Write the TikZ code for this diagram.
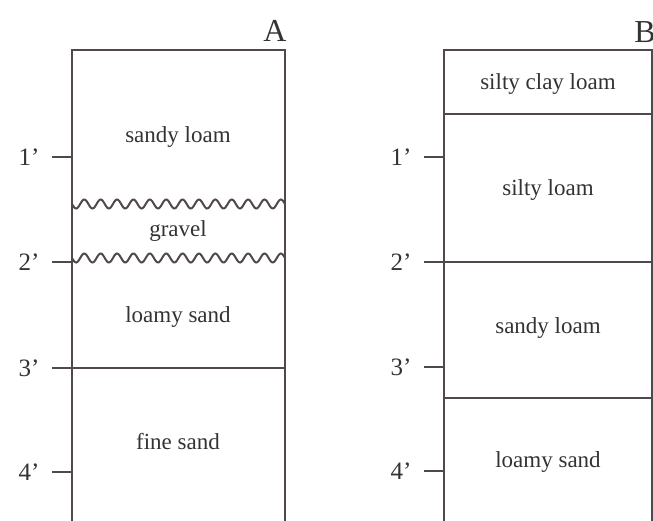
\documentclass[tikz,border=0pt]{standalone}
\usepackage{fontspec}
\setmainfont{Liberation Serif}
\usetikzlibrary{calc}
\definecolor{ink}{RGB}{80,72,76}
\newcommand{\pixelsize}{0.5pt}
\newcommand{\makewave}[4]{
	\draw[layer line] plot[domain=#2:#3, samples=200, smooth] (\x, {#4 + 4.5*sin((\x-#2)/(#3-#2)*4680)});
	\coordinate (#1) at (#2,#4);
}
\newcommand{\depthtick}[4]{
	\coordinate (#1) at (#2,#3);
	\coordinate (#1s) at ($(#1)+(-20,0)$);
	\node[depth label] (#1l) at ($(#1)+(-43,0)$) {#4};
	\draw[tick line] (#1s) -- (#1);
}

\begin{document}
\begin{tikzpicture}[x=\pixelsize,y=-\pixelsize,
	layer line/.style={ink, line width=1pt},
	tick line/.style={ink, line width=0.8pt},
	depth label/.style={font=\fontsize{12.5}{14}\selectfont, text=black!80},
	soil/.style={font=\fontsize{11.5}{13}\selectfont, text=black!80},
	column name/.style={font=\fontsize{16}{18}\selectfont, text=black!80}]
	\useasboundingbox (0,0) rectangle (653,520);
	\clip (0,0) rectangle (653,520);

	% column A
	\coordinate (Atl) at (72,50);
	\coordinate (Atr) at (285,50);
	\coordinate (Abl) at (72,522);
	\coordinate (Abr) at (285,522);
	\coordinate (A3l) at (72,368);
	\coordinate (A3r) at (285,368);
	\node[column name] (Aname) at (275,31) {A};

	\draw[layer line] (Abl) -- (Atl) -- (Atr) -- (Abr);
	\draw[layer line] (A3l) -- (A3r);
	\makewave{Awave1}{72}{285}{204}
	\makewave{Awave2}{72}{285}{258}

	\node[soil] (Asandy) at (178,137) {sandy loam};
	\node[soil] (Agravel) at (178,231) {gravel};
	\node[soil] (Aloamy) at (178,317) {loamy sand};
	\node[soil] (Afine) at (178,442) {fine sand};

	\depthtick{Ad1}{72}{157}{1'}
	\depthtick{Ad2}{72}{262}{2'}
	\depthtick{Ad3}{72}{368}{3'}
	\depthtick{Ad4}{72}{472}{4'}

	% column B
	\coordinate (Btl) at (444,50);
	\coordinate (Btr) at (652,50);
	\coordinate (Bbl) at (444,522);
	\coordinate (Bbr) at (652,522);
	\node[column name] (Bname) at (645,32) {B};

	\draw[layer line] (Bbl) -- (Btl) -- (Btr) -- (Bbr);
	\draw[layer line] (Btl |- 0,114) -- (Btr |- 0,114);
	\draw[layer line] (Btl |- 0,262) -- (Btr |- 0,262);
	\draw[layer line] (Btl |- 0,398) -- (Btr |- 0,398);

	\node[soil] (Bclay) at (548,84) {silty clay loam};
	\node[soil] (Bsilty) at (548,190) {silty loam};
	\node[soil] (Bsandy) at (548,328) {sandy loam};
	\node[soil] (Bloamy) at (548,462) {loamy sand};

	\depthtick{Bd1}{444}{157}{1'}
	\depthtick{Bd2}{444}{262}{2'}
	\depthtick{Bd3}{444}{367}{3'}
	\depthtick{Bd4}{444}{471}{4'}
\end{tikzpicture}
\end{document}
